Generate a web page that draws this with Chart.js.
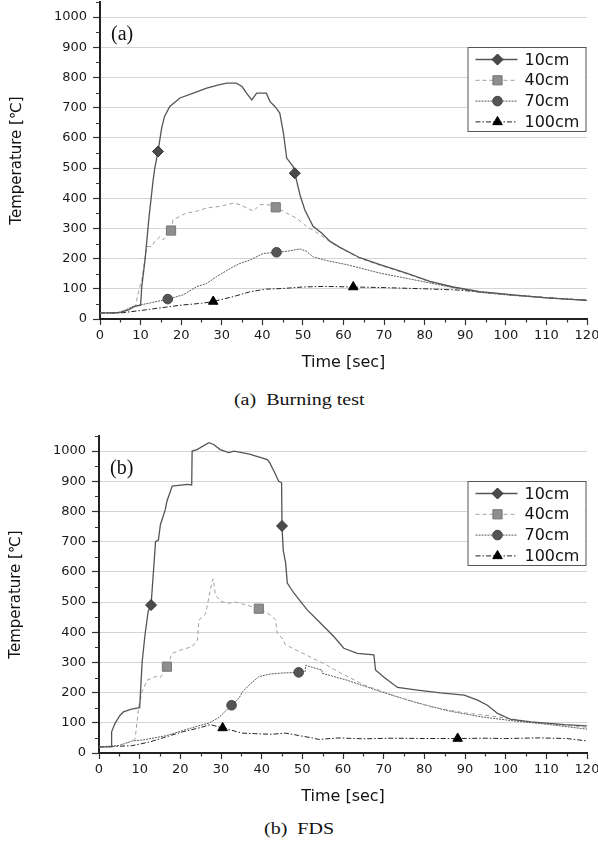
<!DOCTYPE html>
<html>
<head>
<meta charset="utf-8">
<script src="https://cdn.jsdelivr.net/npm/chart.js@4.4.0/dist/chart.umd.min.js"></script>
<style>
	body { margin: 0; background: #fff; width: 598px; height: 844px; position: relative; overflow: hidden; }
	.wrap { position: absolute; left: 0; width: 598px; height: 372px; }
	.cap { position: absolute; left: 0; width: 598px; text-align: center; font-family: 'Liberation Serif', serif; font-size: 16px; line-height: 18px; color: #111; }
	.cap span { display: inline-block; transform: scaleX(1.25); white-space: pre; }
</style>
</head>
<body>
<div class="wrap" style="top:0"><canvas id="chartA" width="598" height="372"></canvas></div>
<div class="cap" style="top:391px"><span>(a)  Burning test</span></div>
<div class="wrap" style="top:434px"><canvas id="chartB" width="598" height="372"></canvas></div>
<div class="cap" style="top:820px"><span>(b)  FDS</span></div>

<script>
// [time sec, temperature C]
const seriesLabels = ['10cm', '40cm', '70cm', '100cm'];

// (a) burning test
const test10 = [[0,20],[3,20],[5,22],[7,30],[8.5,42],[10,46],[10.3,108],[11.1,196],[12.1,340],[13.1,461],[13.5,500],[14.3,555],[15.2,633],[15.9,671],[17.2,704],[19.7,732],[23,748],[26.3,765],[29,775],[31.2,781],[33.6,781],[35,770],[36.1,748],[37.4,726],[38.6,748],[41,748],[41.9,720],[43.1,704],[44.3,682],[45.2,616],[46,533],[47.6,505],[48,483],[49.3,410],[50.5,360],[52.5,307],[54.6,285],[56.7,257],[59,238],[64,203],[69,180],[75.5,152],[81.3,125],[87,106],[93.6,91],[101.8,80],[110,70],[120,62]];
const test40 = [[0,20],[5,22],[7,32],[8.8,42],[9.2,75],[10.3,130],[11.5,240],[12.7,240],[13.5,257],[14.8,273],[15.6,262],[16.5,285],[17.5,293],[18,329],[19.7,340],[21.3,351],[23.8,357],[26.3,368],[29.6,373],[32.8,384],[34.5,379],[36.1,368],[37.8,357],[39.4,379],[41.9,378],[43.3,370],[46,351],[48.4,334],[50.9,307],[53,290],[56,262],[59,237],[64,201],[69,178],[75.5,150],[81.3,123],[87,105],[93.6,90],[101.8,79],[110,70],[120,62]];
const test70 = [[0,20],[4,20],[6,28],[8.2,42],[12.3,53],[16.7,66],[20.5,80],[23.8,107],[26.3,118],[28.7,140],[32.8,173],[34.5,184],[36.9,195],[40.2,217],[43.5,221],[46,224],[48.4,230],[49.3,232],[50.9,224],[52.5,206],[56,193],[60.8,180],[69,152],[77.3,130],[85.5,108],[93.6,88],[101.8,78],[110,70],[120,62]];
const test100 = [[0,20],[5,20],[10,28],[15,37],[20,46],[25,52],[27.9,58],[32.8,74],[36.9,90],[41,99],[45,101],[50,106],[55,108],[62.4,106],[70,104],[80,100],[88,96],[95,88],[102,79],[110,71],[120,62]];
const testMarks = [[14.3, 48], [17.5, 43.3], [16.7, 43.5], [27.9, 62.4]];

// (b) FDS
const fds10 = [[0,20],[3,20],[3.1,70],[4,100],[5.2,125],[6,136],[8,145],[10,150],[10.2,200],[10.6,300],[11.3,390],[12.1,470],[12.8,490],[13.3,584],[13.9,700],[14.6,705],[15.1,756],[16.3,806],[16.7,834],[18,884],[21.7,890],[22.8,888],[22.9,1000],[24.1,1005],[27,1028],[28.2,1022],[29.8,1005],[31.9,995],[33.2,1000],[37,990],[41.4,972],[42,961],[43,934],[44.2,900],[44.9,895],[45,752],[45.3,672],[45.9,629],[46.3,563],[47.9,530],[51.2,474],[54.5,430],[57.8,385],[60.2,347],[63.5,330],[67.6,325],[68,275],[70,252],[73.4,217],[78.3,208],[84,199],[89.8,192],[93.1,175],[95.5,158],[98,131],[101.3,111],[106.2,103],[114.4,94],[120,90]];
const fds40 = [[0,20],[5,23],[8.5,42],[8.9,48],[9.75,153],[10.6,203],[11.8,241],[14.3,255],[15.1,250],[16.7,286],[18,330],[20,341],[22.9,352],[24.2,374],[24.6,441],[26.2,460],[27.8,568],[28.1,577],[28.6,525],[29.9,502],[31.9,496],[33.5,500],[36,491],[39.3,478],[42.2,457],[43.4,441],[43.8,397],[45,381],[45.8,359],[49.1,337],[52.4,315],[55.7,293],[59,268],[65.2,225],[73.4,186],[81.6,153],[89.8,133],[98,120],[106.2,103],[114.4,92],[120,85]];
const fds70 = [[0,20],[5,25],[8.2,40],[10.7,43],[16.4,57],[20.5,74],[24.5,90],[27,99],[29.5,118],[32.6,158],[34.4,181],[35.3,203],[36.9,225],[39.3,253],[41.8,261],[45,265],[49.1,267],[50.7,270],[50.8,290],[54.8,275],[54.9,264],[61,241],[69.3,203],[77.5,169],[85.7,140],[93.9,120],[102.1,106],[110.3,95],[120,79]];
const fds100 = [[0,20],[8,24],[12.3,36],[16.4,53],[20.5,70],[24.6,83],[27.4,94],[30.4,83],[32.7,75],[35.1,66],[38.4,64],[42.5,62],[45.8,66],[49.1,58],[52.4,50],[54,45],[59,50],[65,47],[72,49],[80,48],[88.2,48],[95,49],[100,48],[108,50],[115,48],[120,40]];
const fdsMarks = [[12.8, 45], [16.7, 39.3], [32.6, 49.1], [30.4, 88.2]];

const xTicks = { min: 0, max: 120, step: 10, minor: 5 };
const yTicks = { min: 0, max: 1050, step: 100, minor: 50 };

const styles = [
	{ color: '#555', width: 1.3, dash: [], point: 'rectRot', radius: 5.5, fill: '#4a4a4a', stroke: '#333' },
	{ color: '#a0a0a0', width: 1, dash: [4, 3], point: 'rect', radius: 6.5, fill: '#8e8e8e', stroke: '#777' },
	{ color: '#5a5a5a', width: 1, dash: [2, 1], point: 'circle', radius: 4.8, fill: '#555', stroke: '#444' },
	{ color: '#222', width: 1, dash: [5, 2, 1.5, 2], point: 'triangle', radius: 5.5, fill: '#000', stroke: '#000' },
];

Chart.defaults.font.family = "'DejaVu Sans', sans-serif";
Chart.defaults.color = '#1a1a1a';

const extrasPlugin = {
	id: 'extras',
	afterDraw(chart) {
		const { ctx, chartArea, scales } = chart;
		const opts = chart.options.plugins.extras;
		ctx.save();

		// minor ticks
		ctx.strokeStyle = '#333';
		ctx.lineWidth = 1.2;
		ctx.beginPath();
		for (let v = yTicks.minor; v <= yTicks.max; v += yTicks.step) {
			const y = Math.round(scales.y.getPixelForValue(v)) + 0.5;
			ctx.moveTo(chartArea.left - 4, y);
			ctx.lineTo(chartArea.left, y);
		}
		for (let v = xTicks.minor; v < xTicks.max; v += xTicks.step) {
			const x = Math.round(scales.x.getPixelForValue(v)) + 0.5;
			ctx.moveTo(x, chartArea.bottom);
			ctx.lineTo(x, chartArea.bottom + 3.5);
		}
		ctx.stroke();

		// panel label
		ctx.fillStyle = '#111';
		ctx.font = "20px 'Liberation Serif', serif";
		ctx.textBaseline = 'middle';
		ctx.fillText(opts.panel, chartArea.left + 11, chartArea.top + 33);

		// legend box
		const w = 118, h = 84;
		const left = chartArea.right - w - 1.5;
		const top = chartArea.top + 45;
		ctx.fillStyle = '#fff';
		ctx.fillRect(left, top, w, h);
		ctx.strokeStyle = '#555';
		ctx.lineWidth = 1;
		ctx.strokeRect(left + 0.5, top + 0.5, w, h);
		ctx.font = "16px 'DejaVu Sans', sans-serif";
		chart.data.datasets.forEach((ds, i) => {
			const st = styles[i];
			const y = top + 12.5 + i * 20.8;
			ctx.strokeStyle = st.color;
			ctx.lineWidth = st.width;
			ctx.setLineDash(st.dash);
			ctx.beginPath();
			ctx.moveTo(left + 8, y);
			ctx.lineTo(left + 50, y);
			ctx.stroke();
			ctx.setLineDash([]);
			ctx.fillStyle = st.fill;
			ctx.strokeStyle = st.stroke;
			ctx.lineWidth = 1;
			Chart.helpers.drawPoint(ctx, { pointStyle: st.point, radius: st.radius, rotation: 0, borderWidth: 1 }, left + 30, y);
			ctx.fillStyle = '#111';
			ctx.fillText(ds.label, left + 57, y + 1);
		});
		ctx.restore();
	},
};

const makeChart = (id, panel, series, marks, padLeft) => {
	const datasets = series.map((pts, i) => {
		const st = styles[i];
		return {
			label: seriesLabels[i],
			data: pts.map(([x, y]) => ({ x, y })),
			borderColor: st.color,
			borderWidth: st.width,
			borderDash: st.dash,
			backgroundColor: st.fill,
			pointBorderColor: st.stroke,
			pointBorderWidth: 1,
			pointStyle: st.point,
			pointRadius: (c) => (c.type === 'data' && marks[i].includes(c.raw.x) ? st.radius : 0),
			pointHoverRadius: 0,
			tension: 0,
			fill: false,
		};
	});

	return new Chart(document.getElementById(id), {
		type: 'line',
		data: { datasets },
		options: {
			responsive: false,
			animation: false,
			events: [],
			layout: { padding: { left: padLeft, top: 2, right: 0, bottom: 0 } },
			plugins: {
				legend: { display: false },
				tooltip: { enabled: false },
				extras: { panel },
			},
			scales: {
				x: {
					type: 'linear',
					min: xTicks.min,
					max: xTicks.max,
					ticks: { stepSize: xTicks.step, font: { size: 13 }, padding: 3, maxRotation: 0, callback: (v) => String(v) },
					grid: { drawOnChartArea: false, tickLength: 6, tickColor: '#333', tickWidth: 1.2 },
					border: { color: '#222', width: 2 },
					title: { display: true, text: 'Time [sec]', font: { size: 16 }, color: '#111', padding: { top: 0, bottom: 0 } },
					afterFit: (s) => { s.height = 53; s.paddingRight = 11; },
				},
				y: {
					min: yTicks.min,
					max: yTicks.max,
					ticks: { stepSize: yTicks.step, includeBounds: false, font: { size: 13 }, padding: 6, callback: (v) => String(v) },
					grid: {
						color: (c) => (c.tick && c.tick.value === 0 ? 'rgba(0,0,0,0)' : '#d4d4d4'),
						lineWidth: 1,
						tickLength: 7,
						tickColor: '#333',
						tickWidth: 1.2,
					},
					border: { color: '#222', width: 2 },
					title: { display: true, text: 'Temperature [℃]', font: { size: 15 }, color: '#111', padding: { top: 0, bottom: 0 } },
					afterFit: (s) => { s.width = 92; s.paddingTop = 0; s.paddingBottom = 0; },
				},
			},
		},
		plugins: [extrasPlugin],
	});
};

makeChart('chartA', '(a)', [test10, test40, test70, test100], testMarks, 8);
makeChart('chartB', '(b)', [fds10, fds40, fds70, fds100], fdsMarks, 7);
</script>
</body>
</html>
